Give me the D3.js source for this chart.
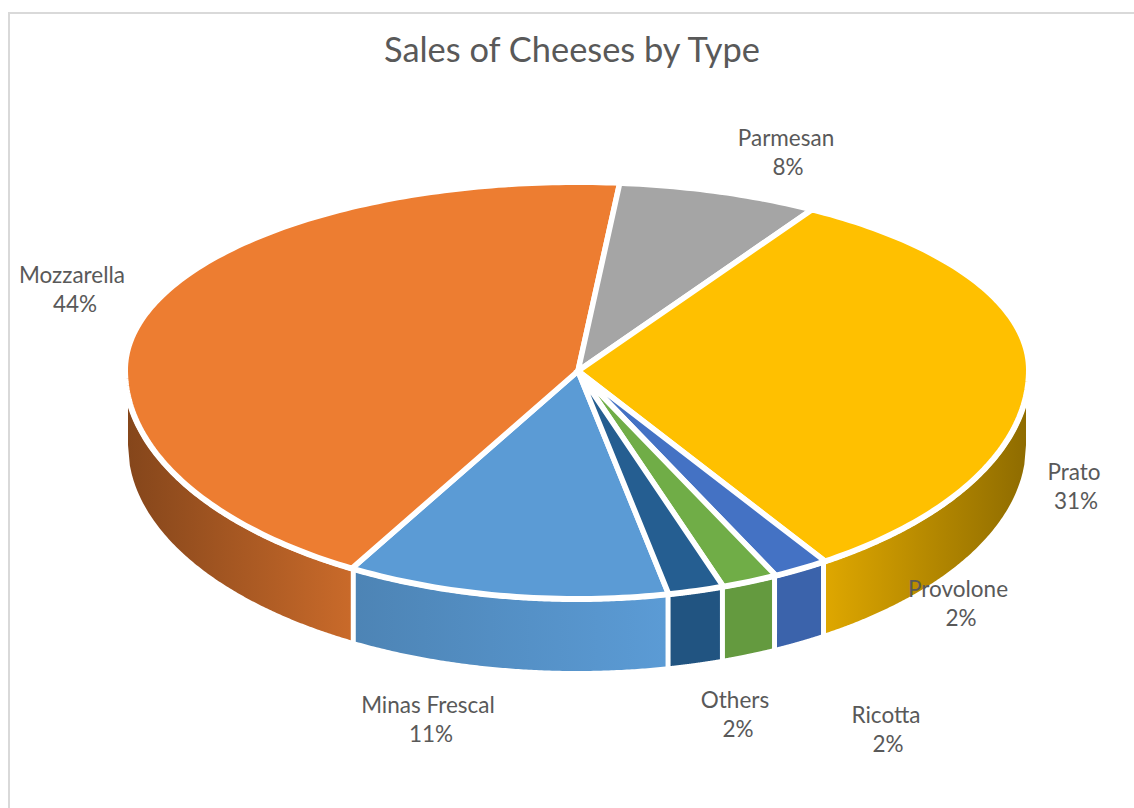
<!DOCTYPE html>
<html>
<head>
<meta charset="utf-8">
<title>Sales of Cheeses by Type</title>
<script src="https://cdn.jsdelivr.net/npm/d3@7/dist/d3.min.js"></script>
<style>
  html, body { margin: 0; padding: 0; background: #fff; overflow: hidden; }
  svg { display: block; }
  text { font-family: "Lato", "Open Sans", sans-serif; fill: #595959; }
</style>
</head>
<body>
<svg id="chart" width="1134" height="808"></svg>
<script>
// Cheese types and their share of sales, in drawing order
const cheeses = ["Minas Frescal", "Mozzarella", "Parmesan", "Prato", "Provolone", "Ricotta", "Others"];
const shares = [11, 44, 8, 31, 2, 2, 2];
const colors = ["#5B9BD5", "#ED7D31", "#A5A5A5", "#FFC000", "#4472C4", "#70AD47", "#255E91"];

// Brightness of each slice's side wall, at its left and right ends
const wallShadeLeft = [0.85, 0.56, 1, 0.87, 0.87, 0.89, 0.89];
const wallShadeRight = [1.0, 0.85, 1, 0.56, 0.87, 0.89, 0.89];

// Label centres, one entry per cheese: [name x, name y, percent x, percent y]
const labelAnchors = [
  [428, 707, 431, 736],
  [72, 277, 75, 306],
  [786, 140, 788, 169],
  [1074, 474, 1076, 503],
  [958, 591, 961, 620],
  [886, 717, 888, 746],
  [735, 702, 738, 731]
];

const svg = d3.select("#chart");
const defs = svg.append("defs");

// Chart frame, open past the right and bottom of the page
svg.append("rect")
  .attr("x", 9).attr("y", 13).attr("width", 1140).attr("height", 820)
  .attr("fill", "none").attr("stroke", "#d9d9d9").attr("stroke-width", 2);

svg.append("text")
  .attr("x", 572).attr("y", 53)
  .attr("text-anchor", "middle").attr("dominant-baseline", "middle")
  .style("font-size", "34.4px")
  .text("Sales of Cheeses by Type");

// Geometry of the tilted disc: the far half is foreshortened more than the near half
const cx = 577, cy = 370, rx = 449, ryFar = 185, ryNear = 226, depth = 75, rimGap = 6;
const strokeWidth = 5.5;
const deg = Math.PI / 180;
const fullTurn = 2 * Math.PI;

const pie = d3.pie().sort(null)
  .startAngle(168.3 * deg)
  .endAngle(168.3 * deg + fullTurn);
const arcs = pie(shares);

// Perspective shifts slice boundaries away from their true angle, except on the near right
function apparentAngle(a) {
  const n = ((a % fullTurn) + fullTurn) % fullTurn;
  if (Math.cos(n) > 0) return n - 4 * deg * Math.sin(2 * n);
  if (n > Math.PI) return n + 2.4 * deg * Math.sin(2 * n);
  return n;
}
function rimPoint(a, grow) {
  const t = apparentAngle(a);
  const c = Math.cos(t);
  const ry = (c > 0 ? ryFar : ryNear) + grow;
  return [cx + (rx + grow) * Math.sin(t), cy - ry * c];
}
function anglesBetween(a0, a1) {
  const n = Math.max(2, Math.ceil((a1 - a0) / deg));
  return d3.range(n + 1).map(i => a0 + (a1 - a0) * i / n);
}
const line = d3.line();

// Side walls: only the part of each slice on the near half of the disc shows
const wallTop = x => {
  const u = (x - cx) / (rx + rimGap);
  return cy + (ryNear + rimGap) * Math.sqrt(Math.max(0, 1 - u * u));
};
const wallBottom = x => {
  const u = Math.min(1, Math.abs(x - cx) / rx);
  return cy + depth + ryNear * Math.sqrt(1 - u * u);
};

// Overlap of a slice with the near half of the disc, on whichever turn it falls
function nearSpan(d) {
  for (const turn of [0, 1]) {
    const lo = Math.PI / 2 + turn * fullTurn, hi = lo + Math.PI;
    const a0 = Math.max(d.startAngle, lo), a1 = Math.min(d.endAngle, hi);
    if (a1 > a0) return [a0, a1];
  }
  return null;
}

const walls = svg.append("g");
arcs.forEach((d, i) => {
  const span = nearSpan(d);
  if (!span) return;

  const xA = rimPoint(span[0], 0)[0], xB = rimPoint(span[1], 0)[0];
  const atEdgeL = Math.min(xA, xB) <= cx - rx + 0.5;
  const atEdgeR = Math.max(xA, xB) >= cx + rx - 0.5;
  const left = Math.min(xA, xB) + (atEdgeL ? 0 : 2.5);
  const right = Math.max(xA, xB) - (atEdgeR ? 0 : 2.5);

  const gradId = "wall-" + i;
  const base = d3.rgb(colors[i]);
  const shade = k => d3.rgb(base.r * k, base.g * k, base.b * k).formatHex();
  const grad = defs.append("linearGradient").attr("id", gradId)
    .attr("gradientUnits", "userSpaceOnUse")
    .attr("x1", left).attr("x2", right).attr("y1", 0).attr("y2", 0);
  grad.append("stop").attr("offset", 0).attr("stop-color", shade(wallShadeLeft[i]));
  grad.append("stop").attr("offset", 1).attr("stop-color", shade(wallShadeRight[i]));

  const xs = d3.range(0, 121).map(j => left + (right - left) * j / 120);
  const outline = xs.map(x => [x, wallTop(x)])
    .concat(xs.slice().reverse().map(x => [x, wallBottom(x)]));
  walls.append("path")
    .attr("d", line(outline) + "Z")
    .attr("fill", `url(#${gradId})`);
});

// Top face: wedges with white seams between them
const apex = [cx + 1, cy + 1];
svg.append("g").selectAll("path")
  .data(arcs)
  .join("path")
  .attr("d", d => line([apex].concat(
    anglesBetween(d.startAngle, d.endAngle).map(a => rimPoint(a, strokeWidth / 2))
  )) + "Z")
  .attr("fill", (d, i) => colors[i])
  .attr("stroke", "#fff")
  .attr("stroke-width", strokeWidth)
  .attr("stroke-linejoin", "miter");

// Category and percentage labels
const labels = svg.append("g").style("font-size", "22.5px")
  .attr("text-anchor", "middle").attr("dominant-baseline", "middle");
cheeses.forEach((name, i) => {
  const p = labelAnchors[i];
  labels.append("text").attr("x", p[0]).attr("y", p[1]).text(name);
  labels.append("text").attr("x", p[2]).attr("y", p[3]).text(shares[i] + "%");
});
</script>
</body>
</html>
